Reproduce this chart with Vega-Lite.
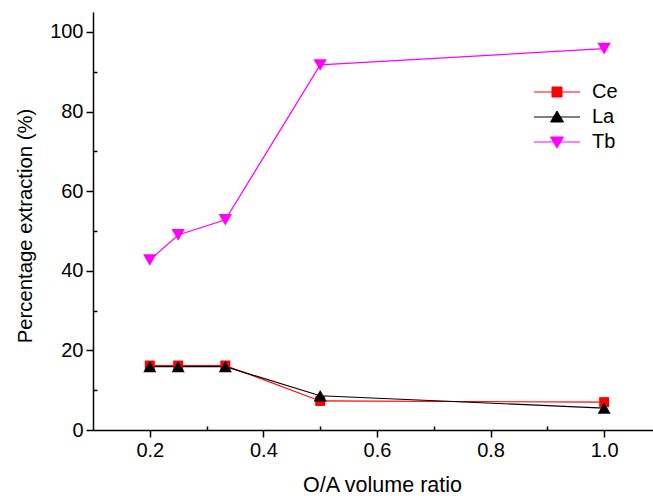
{
  "$schema": "https://vega.github.io/schema/vega-lite/v6.json",
  "width": 560,
  "height": 418,
  "autosize": {"type": "none"},
  "padding": {"left": 93, "top": 12, "right": 0, "bottom": 66},
  "config": {
    "view": {"stroke": null},
    "font": "Liberation Sans",
    "axis": {
      "grid": false,
      "domainColor": "#000000",
      "domainWidth": 1.5,
      "tickColor": "#000000",
      "tickWidth": 1.5,
      "labelColor": "#000000",
      "titleColor": "#000000",
      "labelFont": "Liberation Sans",
      "titleFont": "Liberation Sans",
      "labelFontSize": 20,
      "titleFontSize": 21,
      "titleFontWeight": "normal"
    }
  },
  "data": {
    "values": [
      {"ratio": 0.2, "series": "Ce", "value": 16.2},
      {"ratio": 0.25, "series": "Ce", "value": 16.2},
      {"ratio": 0.333, "series": "Ce", "value": 16.2},
      {"ratio": 0.5, "series": "Ce", "value": 7.3},
      {"ratio": 1.0, "series": "Ce", "value": 7.0},
      {"ratio": 0.2, "series": "La", "value": 15.9},
      {"ratio": 0.25, "series": "La", "value": 15.9},
      {"ratio": 0.333, "series": "La", "value": 15.9},
      {"ratio": 0.5, "series": "La", "value": 8.6},
      {"ratio": 1.0, "series": "La", "value": 5.5},
      {"ratio": 0.2, "series": "Tb", "value": 42.7},
      {"ratio": 0.25, "series": "Tb", "value": 49.0},
      {"ratio": 0.333, "series": "Tb", "value": 52.8},
      {"ratio": 0.5, "series": "Tb", "value": 91.7},
      {"ratio": 1.0, "series": "Tb", "value": 95.8}
    ]
  },
  "resolve": {"axis": {"x": "independent", "y": "independent"}},
  "layer": [
    {
      "mark": {"type": "point", "opacity": 0},
      "encoding": {
        "x": {"field": "ratio", "type": "quantitative",
          "scale": {"domain": [0.1, 1.086], "nice": false, "zero": false},
          "axis": {"orient": "bottom", "values": [0.3, 0.5, 0.7, 0.9], "labels": false, "domain": false, "tickSize": -4, "title": null}},
        "y": {"field": "value", "type": "quantitative",
          "scale": {"domain": [0, 105], "nice": false},
          "axis": {"orient": "left", "values": [10, 30, 50, 70, 90], "labels": false, "domain": false, "tickSize": -4, "title": null}}
      }
    },
    {
      "mark": {"type": "line", "strokeWidth": 1.2},
      "encoding": {
        "x": {"field": "ratio", "type": "quantitative",
          "axis": {"orient": "bottom", "values": [0.2, 0.4, 0.6, 0.8, 1.0], "format": ".1f", "tickSize": 7, "labelPadding": 3,
            "title": "O/A volume ratio", "titleFontSize": 21.5, "titleX": 289, "titleY": 61, "titleBaseline": "alphabetic"}},
        "y": {"field": "value", "type": "quantitative",
          "axis": {"orient": "left", "values": [0, 20, 40, 60, 80, 100], "format": "d", "tickSize": 7, "labelPadding": 3,
            "title": "Percentage extraction (%)", "titleFontSize": 20.3, "titleX": -62, "titleY": 213.5, "titleBaseline": "alphabetic"}},
        "color": {"field": "series", "type": "nominal",
          "scale": {"domain": ["Ce", "La", "Tb"], "range": ["#FF0000", "#000000", "#FF00FF"]},
          "legend": {
            "orient": "none", "legendX": 454, "legendY": 70, "title": null, "padding": 0,
            "symbolSize": 100, "symbolStrokeWidth": 1, "labelFontSize": 20, "labelFont": "Liberation Sans", "labelColor": "#000000",
            "labelOffset": 25, "rowPadding": 5,
            "encode": {
              "symbols": {
                "update": {
                  "shape": {"signal": "datum.value === 'Ce' ? 'M-4.6,0H4.6M-1,-1H1V1H-1Z' : datum.value === 'La' ? 'M-4.6,0H4.6M0,-1.2L1.3,1L-1.3,1Z' : 'M-4.6,0H4.6M0,1.2L1.3,-1L-1.3,-1Z'"},
                  "fill": {"signal": "scale('color', datum.value)"},
                  "stroke": {"signal": "scale('color', datum.value)"},
                  "fillOpacity": {"value": 1},
                  "strokeWidth": {"value": 1}
                }
              }
            }
          }
        }
      }
    },
    {
      "transform": [{"filter": "datum.series === 'Ce'"}],
      "mark": {"type": "point", "filled": true, "opacity": 1, "shape": "square", "size": 100},
      "encoding": {
        "x": {"field": "ratio", "type": "quantitative", "axis": null},
        "y": {"field": "value", "type": "quantitative", "axis": null},
        "color": {"field": "series", "type": "nominal", "legend": null}
      }
    },
    {
      "transform": [{"filter": "datum.series === 'La'"}],
      "mark": {"type": "point", "filled": true, "opacity": 1, "shape": "triangle-up", "size": 170},
      "encoding": {
        "x": {"field": "ratio", "type": "quantitative", "axis": null},
        "y": {"field": "value", "type": "quantitative", "axis": null},
        "color": {"field": "series", "type": "nominal", "legend": null}
      }
    },
    {
      "transform": [{"filter": "datum.series === 'Tb'"}],
      "mark": {"type": "point", "filled": true, "opacity": 1, "shape": "triangle-down", "size": 180},
      "encoding": {
        "x": {"field": "ratio", "type": "quantitative", "axis": null},
        "y": {"field": "value", "type": "quantitative", "axis": null},
        "color": {"field": "series", "type": "nominal", "legend": null}
      }
    }
  ]
}
